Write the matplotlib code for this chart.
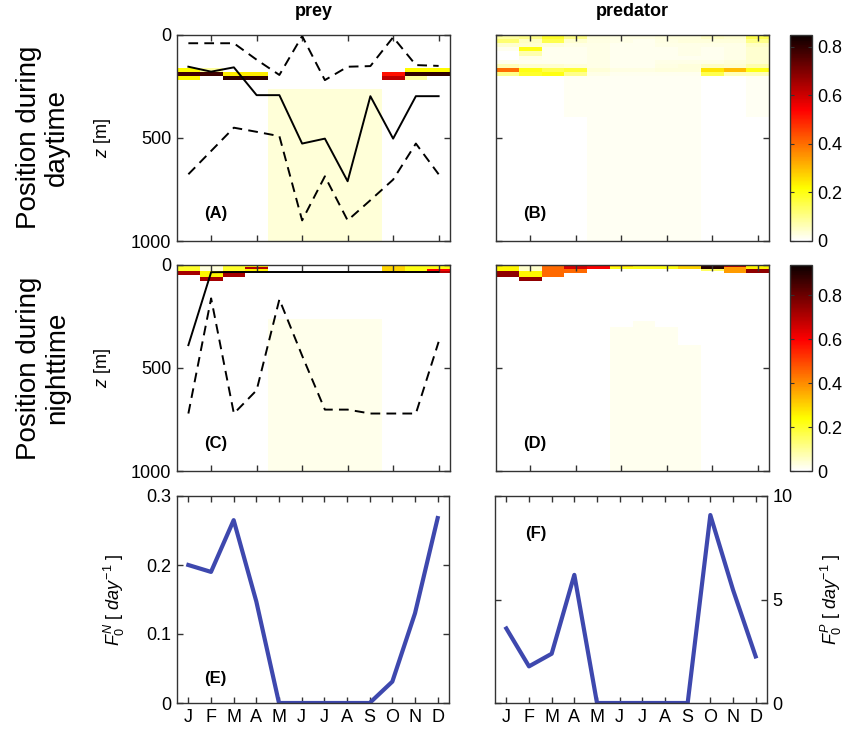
import numpy as np
import matplotlib
matplotlib.use('Agg')
import matplotlib.pyplot as plt
from matplotlib.ticker import FuncFormatter

plt.rcParams['font.family'] = ['Liberation Sans', 'DejaVu Sans']
plt.rcParams['mathtext.fontset'] = 'custom'
plt.rcParams['mathtext.rm'] = 'Liberation Sans'
plt.rcParams['mathtext.it'] = 'Liberation Sans:italic'

months = np.arange(1, 13)
month_labels = ['J', 'F', 'M', 'A', 'M', 'J', 'J', 'A', 'S', 'O', 'N', 'D']

# --- distributions: values per depth bin from the surface, one list per month
day_bin = 20.0    # m
night_bin = 10.0  # m

prey_day_top = [
    [0, 0, 0, 0, 0, 0, 0, 0, 0.22, 0.78, 0.22],
    [0, 0, 0, 0, 0, 0, 0, 0, 0.08, 0.78],
    [0, 0, 0, 0, 0, 0, 0, 0, 0, 0.24, 0.8],
    [0, 0, 0, 0, 0, 0, 0, 0, 0, 0.24, 0.8],
    [], [], [], [], [],
    [0, 0, 0, 0, 0, 0, 0, 0, 0, 0.52, 0.62],
    [0, 0, 0, 0, 0, 0, 0, 0, 0.22, 0.8, 0.08],
    [0, 0, 0, 0, 0, 0, 0, 0, 0.22, 0.8],
]
# (start depth, end depth, value) of the faint deep layer
prey_day_deep = [(0, 0, 0), (0, 0, 0), (0, 0, 0), (0, 0, 0),
                 (260, 1000, 0.035), (260, 1000, 0.035), (260, 1000, 0.035),
                 (260, 1000, 0.035), (260, 1000, 0.035),
                 (0, 0, 0), (0, 0, 0), (0, 0, 0)]

pred_day_top = [
    [0.08, 0.12, 0.04, 0.015, 0, 0, 0.015, 0.06, 0.4, 0.1],
    [0.1, 0.05, 0.04, 0.2, 0.07, 0.02, 0.015, 0.04, 0.2, 0.18],
    [0.18, 0.15, 0.03, 0.015, 0.015, 0.015, 0.015, 0.04, 0.15, 0.2],
    [0.1, 0.04, 0.02, 0.015, 0.015, 0.015, 0.015, 0.03, 0.17, 0.1],
    [0.03, 0.025, 0.02, 0.02, 0.02, 0.02, 0.02, 0.02, 0.035, 0.02],
    [0.025, 0.02, 0.015, 0.015, 0.015, 0.015, 0.015, 0.015, 0.025, 0.015],
    [0.025, 0.015, 0.015, 0.015, 0.015, 0.015, 0.015, 0.015, 0.025, 0.015],
    [0.03, 0.025, 0.02, 0.015, 0.015, 0.015, 0.02, 0.025, 0.03, 0.015],
    [0.03, 0.03, 0.02, 0.02, 0.02, 0.015, 0.02, 0.03, 0.03, 0.015],
    [0.05, 0.03, 0.02, 0.015, 0.015, 0.015, 0.02, 0.05, 0.25, 0.15],
    [0.04, 0.03, 0.02, 0.02, 0.02, 0.02, 0.03, 0.04, 0.3, 0.06],
    [0.15, 0.1, 0.05, 0.04, 0.04, 0.04, 0.04, 0.07, 0.2, 0.06],
]
pred_day_deep = [(0, 0, 0), (0, 0, 0), (0, 0, 0), (200, 400, 0.012),
                 (200, 1000, 0.012), (200, 1000, 0.012), (200, 1000, 0.012),
                 (200, 1000, 0.012), (200, 1000, 0.012),
                 (0, 0, 0), (0, 0, 0), (200, 400, 0.012)]

prey_night_top = [
    [0.2, 0.2, 0.2, 0.72, 0.72],
    [0.05, 0.03, 0.03, 0.25, 0.25, 0.25, 0.72, 0.72],
    [0.2, 0.2, 0.2, 0.72, 0.72, 0.72],
    [0.25, 0.7, 0.25],
    [], [], [], [], [],
    [0.3, 0.3, 0.3, 0.6],
    [0.22, 0.22, 0.22, 0.6],
    [0.22, 0.22, 0.6, 0.7],
]
prey_night_deep = [(0, 0, 0), (0, 0, 0), (0, 0, 0), (0, 0, 0),
                   (260, 1000, 0.02), (260, 1000, 0.02), (260, 1000, 0.02),
                   (260, 1000, 0.02), (260, 1000, 0.02),
                   (0, 0, 0), (0, 0, 0), (0, 0, 0)]

pred_night_top = [
    [0.25, 0.25, 0.25, 0.75, 0.75, 0.75],
    [0.05, 0.05, 0.05, 0.25, 0.25, 0.25, 0.75, 0.75],
    [0.45, 0.45, 0.45, 0.45, 0.45, 0.45],
    [0.65, 0.65, 0.45, 0.45],
    [0.6, 0.6],
    [0.3, 0.22],
    [0.22, 0.22],
    [0.22, 0.22],
    [0.3, 0.3],
    [0.9, 0.9, 0.15],
    [0.7, 0.38, 0.38, 0.38],
    [0.25, 0.25, 0.75, 0.75],
]
pred_night_deep = [(0, 0, 0), (0, 0, 0), (0, 0, 0), (0, 0, 0), (0, 0, 0),
                   (300, 1000, 0.015), (270, 1000, 0.015), (300, 1000, 0.015),
                   (390, 1000, 0.015), (0, 0, 0), (0, 0, 0), (0, 0, 0)]

# --- prey depth statistics (m)
prey_day_median = [154, 178, 157, 292, 292, 527, 503, 710, 297, 503, 297, 297]
prey_day_upper = [40, 40, 40, 120, 194, 5, 219, 154, 151, 11, 146, 150]
prey_day_lower = [676, 563, 450, 470, 491, 900, 686, 900, 802, 702, 527, 676]

prey_night_median = [389, 35, 34, 34, 34, 34, 34, 34, 34, 34, 34, 34]
prey_night_upper = [2, 2, 2, 2, 2, 2, 2, 2, 2, 2, 2, 2]
prey_night_lower = [721, 162, 721, 608, 167, 440, 702, 702, 721, 721, 721, 373]

# --- feeding rates
prey_F0 = [0.2, 0.19, 0.265, 0.147, 0, 0, 0, 0, 0, 0.031, 0.13, 0.268]
pred_F0 = [3.6, 1.77, 2.38, 6.19, 0, 0, 0, 0, 0, 9.08, 5.47, 2.25]

cmax_day = 0.848
cmax_night = 0.937


def build_grid(top, deep, dz):
    nz = int(1000 / dz)
    grid = np.zeros((nz, 12))
    zc = (np.arange(nz) + 0.5) * dz
    for m in range(12):
        z0, z1, v = deep[m]
        grid[(zc > z0) & (zc < z1), m] = v
        for i, val in enumerate(top[m]):
            grid[i, m] = val
    edges = np.arange(nz + 1) * dz
    return grid, edges


W, H = 849.0, 738.0


def rect(left, top, right, bottom):
    return [left / W, 1 - bottom / H, (right - left) / W, (bottom - top) / H]


fig = plt.figure(figsize=(8.49, 7.38), dpi=100)

frame_col = '#333333'
fs = 13


def style(ax):
    for s in ax.spines.values():
        s.set_color(frame_col)
        s.set_linewidth(1.0)
    ax.tick_params(direction='in', top=True, right=True, length=4,
                   width=1.0, color=frame_col, labelsize=fs, pad=4)


xedges = np.arange(0.5, 13.0, 1.0)
panels = [
    (rect(177, 35, 450, 241), prey_day_top, prey_day_deep, day_bin, cmax_day, '(A)'),
    (rect(496, 35, 769, 241), pred_day_top, pred_day_deep, day_bin, cmax_day, '(B)'),
    (rect(177, 265, 450, 471), prey_night_top, prey_night_deep, night_bin, cmax_night, '(C)'),
    (rect(496, 265, 769, 471), pred_night_top, pred_night_deep, night_bin, cmax_night, '(D)'),
]
axes = []
meshes = []
for pos, top, deep, dz, cmax, lab in panels:
    ax = fig.add_axes(pos)
    grid, zedges = build_grid(top, deep, dz)
    mesh = ax.pcolormesh(xedges, zedges, grid, cmap='hot_r', vmin=0, vmax=cmax,
                         shading='flat')
    ax.set_xlim(0.5, 12.5)
    ax.set_ylim(1000, 0)
    ax.set_xticks([2, 4, 6, 8, 10, 12])
    ax.set_xticklabels([])
    ax.set_yticks([0, 500, 1000])
    style(ax)
    ax.text(0.1, 0.135, lab, transform=ax.transAxes, fontsize=12,
            fontweight='bold', ha='left', va='center')
    axes.append(ax)
    meshes.append(mesh)

axA, axB, axC, axD = axes
for ax in (axB, axD):
    ax.set_yticklabels([])
for ax in (axA, axC):
    ax.set_ylabel(r'$z$ [m]', fontsize=fs)
    ax.yaxis.set_label_coords(-0.235, 0.5)

dash = (0, (5, 3.2))
axA.plot(months, prey_day_median, color='black', lw=1.4)
axA.plot(months, prey_day_upper, color='black', lw=1.4, linestyle=dash)
axA.plot(months, prey_day_lower, color='black', lw=1.4, linestyle=dash)
axC.plot(months, prey_night_median, color='black', lw=1.4)
axC.plot(months, prey_night_upper, color='black', lw=1.4, linestyle=dash)
axC.plot(months, prey_night_lower, color='black', lw=1.4, linestyle=dash)

# colorbars
cb_fmt = FuncFormatter(lambda v, p: '%g' % v)
for mesh, pos in ((meshes[1], rect(790, 35, 812, 241)), (meshes[3], rect(790, 265, 812, 471))):
    cax = fig.add_axes(pos)
    cb = fig.colorbar(mesh, cax=cax, ticks=[0, 0.2, 0.4, 0.6, 0.8], format=cb_fmt)
    cb.outline.set_edgecolor(frame_col)
    cb.outline.set_linewidth(1.0)
    cax.tick_params(direction='in', length=3, labelsize=fs, color=frame_col,
                    left=True, right=True, pad=4)

# feeding rate panels
blue = '#3E48AE'
axE = fig.add_axes(rect(177, 496, 449, 703))
axE.plot(months, prey_F0, color=blue, lw=3)
axE.set_xlim(0.5, 12.5)
axE.set_ylim(0, 0.3)
axE.set_yticks([0, 0.1, 0.2, 0.3])
axE.yaxis.set_major_formatter(cb_fmt)
axE.set_xticks(months)
axE.set_xticklabels(month_labels)
style(axE)
axE.set_ylabel(r'$F_0^N$ [ $day^{-1}$ ]', fontsize=fs)
axE.yaxis.set_label_coords(-0.185, 0.5)
axE.text(0.1, 0.12, '(E)', transform=axE.transAxes, fontsize=12,
         fontweight='bold', ha='left', va='center')

axF = fig.add_axes(rect(495, 496, 767, 703))
axF.plot(months, pred_F0, color=blue, lw=3)
axF.set_xlim(0.5, 12.5)
axF.set_ylim(0, 10)
axF.set_yticks([0, 5, 10])
axF.set_xticks(months)
axF.set_xticklabels(month_labels)
style(axF)
axF.yaxis.tick_right()
axF.tick_params(left=True, right=True, labelleft=False, labelright=True)
axF.yaxis.set_label_position('right')
axF.set_ylabel(r'$F_0^P$ [ $day^{-1}$ ]', fontsize=fs)
axF.yaxis.set_label_coords(1.19, 0.5)
axF.text(0.11, 0.82, '(F)', transform=axF.transAxes, fontsize=12,
         fontweight='bold', ha='left', va='center')

# column titles and row labels
fig.text(313.5 / W, 1 - 12 / H, 'prey', fontsize=13, fontweight='bold',
         ha='center', va='center')
fig.text(632 / W, 1 - 12 / H, 'predator', fontsize=13, fontweight='bold',
         ha='center', va='center')
fig.text(43 / W, 1 - 137 / H, 'Position during\ndaytime', rotation=90,
         fontsize=20, ha='center', va='center', multialignment='center',
         linespacing=1.1)
fig.text(43 / W, 1 - 368 / H, 'Position during\nnighttime', rotation=90,
         fontsize=20, ha='center', va='center', multialignment='center',
         linespacing=1.1)

fig.savefig('out.png', dpi=100)
